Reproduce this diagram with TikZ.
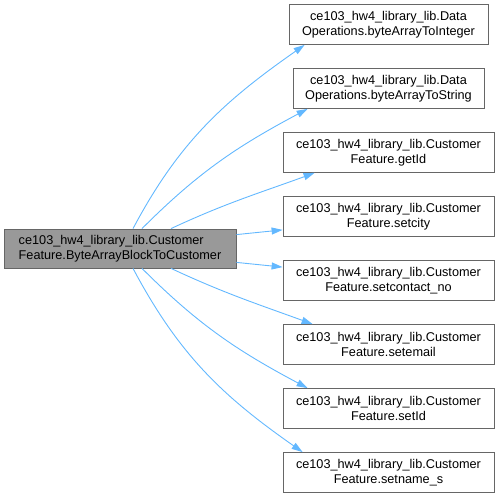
\documentclass[tikz,border=0pt]{standalone}
\usepackage{fontspec}
\setmainfont{Liberation Sans}
\usetikzlibrary{arrows.meta}
\definecolor{edge}{HTML}{63B8FF}
\definecolor{frame}{HTML}{666666}
\definecolor{cur}{HTML}{999999}
\tikzset{
 fn/.style={draw=frame,line width=0.8pt,align=center,inner xsep=4pt,inner ysep=4pt,minimum height=40pt},
 call/.style={edge,line width=0.9pt,->}}

\begin{document}
\begin{tikzpicture}[x=1pt,y=1pt,>={Triangle[length=11pt,width=7pt]},font=\fontsize{12.7}{15}\selectfont]
\useasboundingbox (0,0) rectangle (499,499);
\node[fn,fill=cur,align=left,minimum width=232pt,minimum height=39pt] (src) at (120,250.5) {ce103\_hw4\_library\_lib.Customer\\Feature.ByteArrayBlockToCustomer};
\foreach \n/\y/\w/\a/\b in {t1/474.5/199/Data/Operations.byteArrayToInteger,t2/410.5/191/Data/Operations.byteArrayToString,t3/346.5/211/Customer/Feature.getId,t4/282.5/211/Customer/Feature.setcity,t5/218.5/211/Customer/Feature.setcontact\_no,t6/154.5/211/Customer/Feature.setemail,t7/90.5/211/Customer/Feature.setId,t8/26.5/211/Customer/Feature.setname\_s}
 \node[fn,fill=white,minimum width=\w pt] (\n) at (388.5,\y) {ce103\_hw4\_library\_lib.\a\\\b};
% calls
\draw[call] ([xshift=13pt]src.north) to[out=62,in=-145] ([xshift=16pt]t1.south west);
\draw[call] ([xshift=22pt]src.north) to[out=45,in=-152] ([xshift=15pt]t2.south west);
\draw[call] ([xshift=51pt]src.north) to[out=25,in=-160] ([xshift=32pt]t3.south west);
\draw[call] ([yshift=-6pt]src.north east) -- ([yshift=7pt]t4.south west);
\draw[call] ([yshift=6pt]src.south east) -- ([yshift=-7pt]t5.north west);
\draw[call] ([xshift=51pt]src.south) to[out=-25,in=160] ([xshift=30pt]t6.north west);
\draw[call] ([xshift=22pt]src.south) to[out=-45,in=152] ([xshift=25pt]t7.north west);
\draw[call] ([xshift=13pt]src.south) to[out=-62,in=145] ([xshift=20pt]t8.north west);
\end{tikzpicture}
\end{document}
